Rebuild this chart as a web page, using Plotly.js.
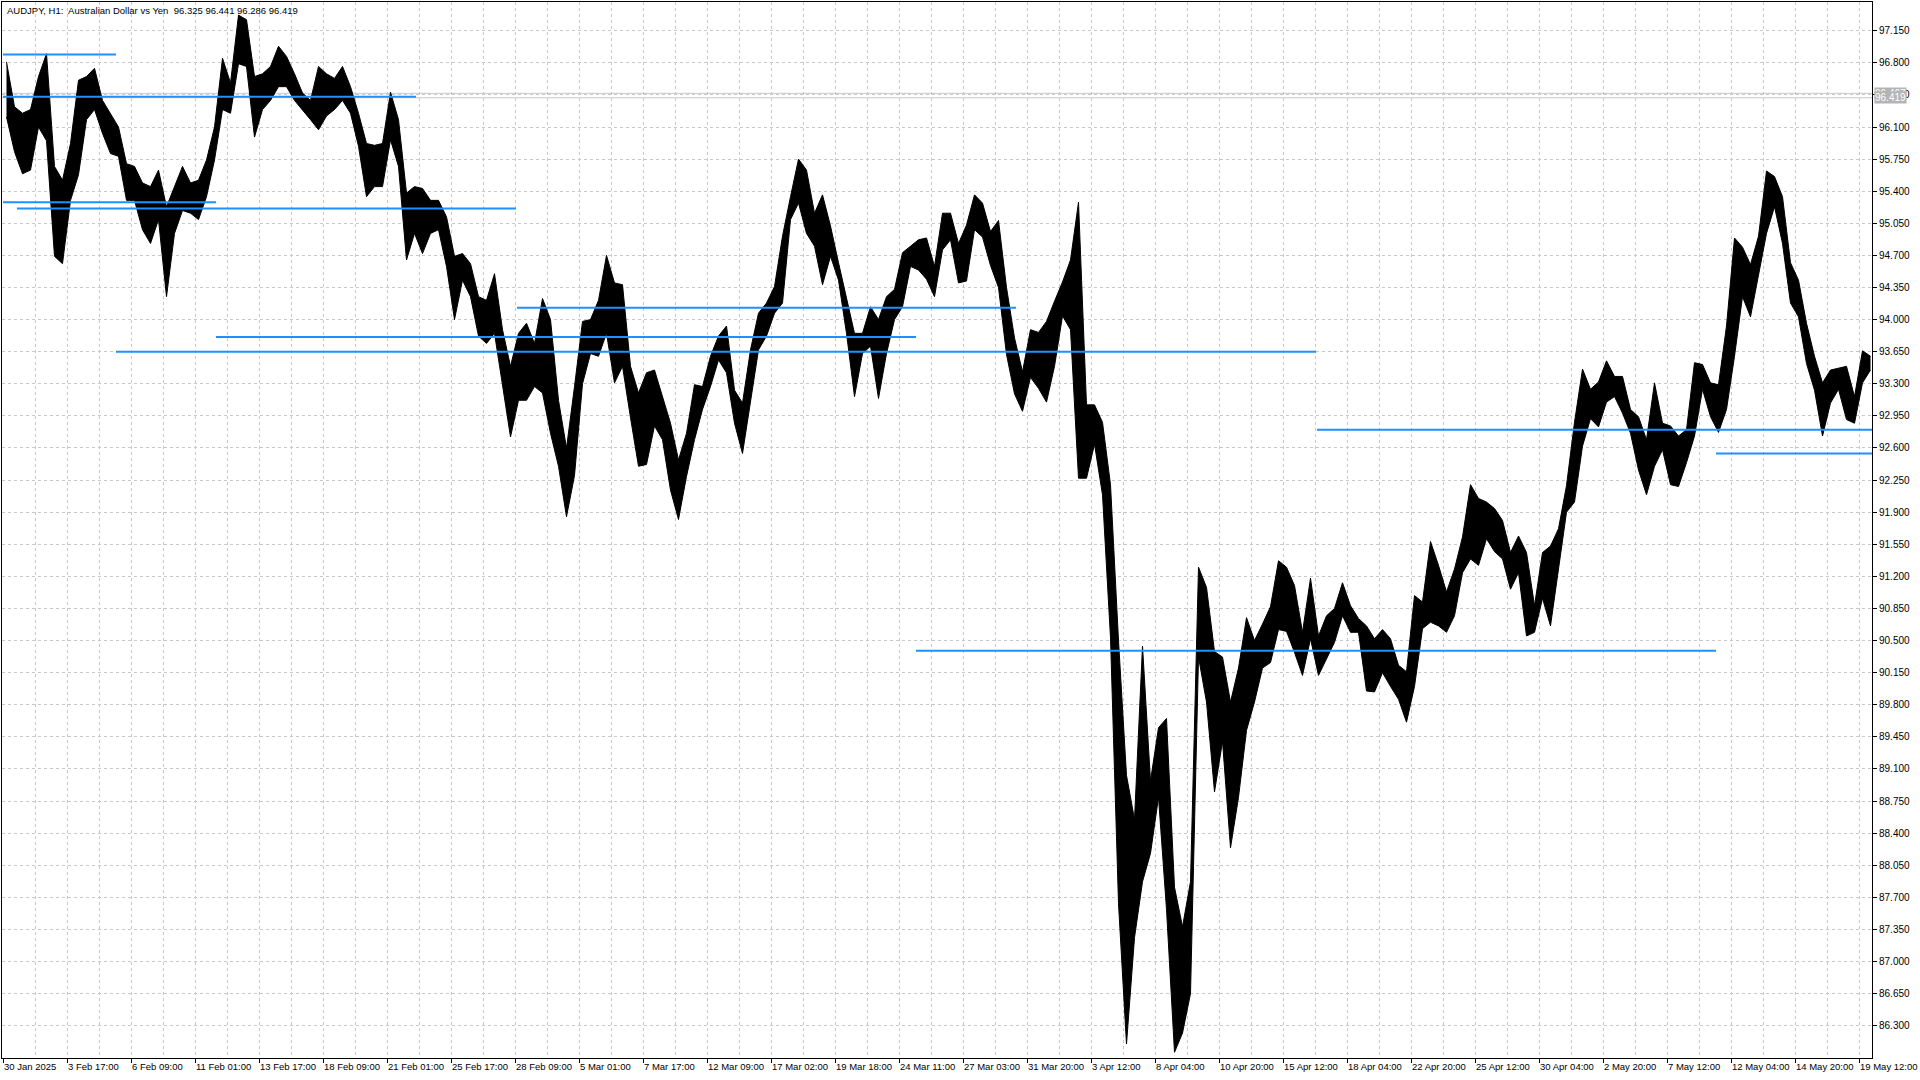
<!DOCTYPE html>
<html><head><meta charset="utf-8">
<script src="https://cdn.plot.ly/plotly-3.0.1.min.js"></script>
<style>html,body{margin:0;padding:0;background:#fff;}#chart{width:1920px;height:1080px;}</style>
</head><body><div id="chart"></div>
<script>
// ---- data ----
const symbolTitle = "AUDJPY, H1:\u00a0 Australian Dollar vs Yen\u00a0 96.325 96.441 96.286 96.419";
const barsPerSample = 8;   // each sample summarises 8 hourly bars
const sampleHigh = [
96.81,96.32,96.25,96.29,96.65,96.90,95.67,95.52,95.92,96.61,
96.65,96.74,96.39,96.25,96.10,95.70,95.67,95.49,95.45,95.63,
95.23,95.45,95.67,95.49,95.52,95.74,96.10,96.85,96.58,97.32,
97.27,96.65,96.68,96.76,96.98,96.87,96.68,96.47,96.39,96.76,
96.68,96.63,96.76,96.54,96.25,95.92,95.90,95.92,96.48,96.18,
95.38,95.45,95.43,95.30,95.30,95.12,94.69,94.72,94.61,94.25,
94.21,94.50,93.89,93.49,93.85,93.96,93.74,94.23,94.00,93.12,
92.60,93.27,93.98,94.00,94.21,94.70,94.40,94.38,93.49,93.20,
93.42,93.45,93.16,92.87,92.47,92.76,93.29,93.27,93.60,93.82,
93.93,93.23,93.09,93.67,94.07,94.18,94.36,94.91,95.34,95.75,
95.63,95.16,95.36,95.02,94.62,94.22,93.85,93.85,94.14,94.00,
94.25,94.33,94.73,94.80,94.87,94.89,94.58,95.16,95.16,94.83,
95.03,95.36,95.27,94.96,95.08,94.35,93.80,93.43,93.89,93.86,
93.98,94.20,94.41,94.65,95.28,93.07,93.07,92.88,92.20,90.50,
89.03,88.55,90.44,88.97,89.55,89.65,87.81,87.38,87.87,91.30,
91.08,90.38,90.32,89.83,90.20,90.75,90.50,90.68,90.87,91.37,
91.30,91.10,90.59,91.18,90.55,90.77,90.85,91.13,90.88,90.74,
90.66,90.52,90.62,90.52,90.23,90.16,90.99,90.92,91.58,91.32,
91.03,91.28,91.63,92.20,92.05,92.01,91.94,91.81,91.46,91.64,
91.46,90.88,91.46,91.53,91.72,92.19,92.88,93.46,93.24,93.32,
93.55,93.38,93.38,93.02,92.94,92.69,93.31,92.87,92.84,92.73,
92.80,93.53,93.51,93.31,93.29,93.93,94.89,94.79,94.60,94.91,
95.62,95.56,95.34,94.62,94.43,93.96,93.60,93.31,93.45,93.47,
93.49,93.16,93.66,93.60
];
const sampleLow = [
96.21,95.83,95.59,95.63,96.10,95.95,94.69,94.61,95.30,95.58,
96.18,96.29,96.03,95.81,95.78,95.30,95.30,94.98,94.83,95.09,
94.25,94.94,95.19,95.16,95.09,95.34,95.74,96.29,96.25,96.79,
96.76,95.99,96.29,96.39,96.54,96.54,96.39,96.29,96.18,96.07,
96.22,96.29,96.39,96.25,95.89,95.34,95.45,95.45,95.96,95.67,
94.65,94.94,94.72,94.94,94.98,94.58,94.00,94.43,94.25,93.82,
93.74,93.85,93.31,92.72,93.12,93.12,93.27,93.20,92.76,92.40,
91.85,92.30,93.30,93.63,93.60,93.85,93.31,93.49,92.93,92.40,
92.42,92.84,92.69,92.14,91.82,92.29,92.69,93.02,93.27,93.56,
93.42,92.87,92.54,93.09,93.67,93.82,94.07,94.18,95.09,95.27,
94.94,94.80,94.38,94.69,94.43,93.85,93.16,93.63,93.71,93.14,
93.63,94.00,94.14,94.58,94.54,94.44,94.25,94.76,94.87,94.40,
94.42,94.98,94.90,94.59,94.35,93.62,93.19,93.00,93.37,93.25,
93.10,93.49,94.04,93.89,92.27,92.27,92.64,92.09,90.53,87.63,
86.10,87.26,87.87,88.18,88.79,87.57,86.01,86.22,86.65,90.32,
89.83,88.85,89.40,88.24,88.79,89.52,89.83,90.20,90.26,90.62,
90.60,90.37,90.12,90.52,90.12,90.30,90.48,90.77,90.59,90.59,
89.95,89.94,90.15,90.00,89.86,89.61,90.00,90.63,90.70,90.66,
90.59,90.77,91.24,91.39,91.32,91.61,91.47,91.39,91.06,91.24,
90.55,90.59,90.96,90.66,91.28,91.90,92.01,92.62,92.92,92.83,
93.10,93.16,92.98,92.76,92.36,92.09,92.40,92.58,92.20,92.18,
92.44,92.73,93.24,92.94,92.77,93.02,93.60,94.25,94.03,94.47,
94.94,95.23,94.83,94.18,94.03,93.52,93.23,92.73,93.09,93.24,
92.91,92.87,93.31,93.45
];
const barsPerLabel = 64;
const timeLabels = ["30 Jan 2025","3 Feb 17:00","6 Feb 09:00","11 Feb 01:00","13 Feb 17:00","18 Feb 09:00",
"21 Feb 01:00","25 Feb 17:00","28 Feb 09:00","5 Mar 01:00","7 Mar 17:00","12 Mar 09:00","17 Mar 02:00",
"19 Mar 18:00","24 Mar 11:00","27 Mar 03:00","31 Mar 20:00","3 Apr 12:00","8 Apr 04:00","10 Apr 20:00",
"15 Apr 12:00","18 Apr 04:00","22 Apr 20:00","25 Apr 12:00","30 Apr 04:00","2 May 20:00","7 May 12:00",
"12 May 04:00","14 May 20:00","19 May 12:00"];
const priceTicks = ["86.300","86.650","87.000","87.350","87.700","88.050","88.400","88.750","89.100","89.450",
"89.800","90.150","90.500","90.850","91.200","91.550","91.900","92.250","92.600","92.950","93.300","93.650",
"94.000","94.350","94.700","95.050","95.400","95.750","96.100","96.450","96.800","97.150"];
// horizontal levels (price, first bar, last bar)
const levelPrice = [96.89, 96.43, 95.28, 95.21, 94.13, 93.81, 93.65, 92.80, 92.54, 90.39];
const levelFrom  = [0, 0, 0, 14, 514, 213, 113, 1314, 1713, 913];
const levelTo    = [113, 413, 213, 513, 1013, 913, 1313, 1869, 1869, 1713];
const bidPrice = 96.419, askPrice = 96.467;
const firstBar = -1, lastBar = 1869;
const priceMin = 85.948, priceMax = 97.463;

// ---- build ----
const xs = sampleHigh.map((_, i) => i * barsPerSample + (barsPerSample - 1) / 2);
const traces = [];
traces.push({x:[firstBar,lastBar], y:[askPrice,askPrice], mode:'lines', line:{color:'#c8c8c8', width:1}, hoverinfo:'skip'});
traces.push({x:[firstBar,lastBar], y:[bidPrice,bidPrice], mode:'lines', line:{color:'#c8c8c8', width:1}, hoverinfo:'skip'});
traces.push({x:xs, y:sampleLow, mode:'lines', line:{color:'#000', width:1}, hoverinfo:'skip'});
traces.push({x:xs, y:sampleHigh, mode:'lines', line:{color:'#000', width:1}, fill:'tonexty', fillcolor:'#000', hoverinfo:'skip'});
levelPrice.forEach((p, i) => {
  traces.push({x:[levelFrom[i], levelTo[i]], y:[p, p], mode:'lines', line:{color:'#1e90ff', width:2}, hoverinfo:'skip'});
});

const tickBars = timeLabels.map((_, i) => i * barsPerLabel);
const gridStyle = {color:'#c8c8c8', dash:'3px,3px'};
const font = {family:'"Liberation Sans", Arial, sans-serif', size:10, color:'#000'};
const smallFont = Object.assign({}, font, {size:9.5});

const layout = {
  width:1920, height:1080,
  margin:{l:2, r:48, t:2, b:22},
  paper_bgcolor:'#fff', plot_bgcolor:'#fff',
  showlegend:false,
  font: font,
  xaxis:{
    range:[firstBar, lastBar], tickmode:'array', tickvals:tickBars, ticktext:timeLabels,
    tickangle:0, ticks:'outside', ticklen:4, tickcolor:'#000', ticklabelposition:'outside right',
    showgrid:true, gridcolor:gridStyle.color, griddash:gridStyle.dash, gridwidth:1,
    minor:{tickmode:'linear', tick0:0, dtick:barsPerLabel/2, showgrid:true, gridcolor:gridStyle.color, griddash:gridStyle.dash, ticks:''},
    showline:true, linecolor:'#000', linewidth:1, mirror:true, zeroline:false,
    tickfont:smallFont, fixedrange:true
  },
  yaxis:{
    range:[priceMin, priceMax], side:'right', tickmode:'array',
    tickvals:priceTicks.map(Number), ticktext:priceTicks,
    ticks:'outside', ticklen:4, tickcolor:'#000',
    showgrid:true, gridcolor:gridStyle.color, griddash:gridStyle.dash, gridwidth:1,
    showline:true, linecolor:'#000', linewidth:1, mirror:true, zeroline:false,
    tickfont:font, fixedrange:true
  },
  annotations:[
    {xref:'paper', yref:'paper', x:0, y:1, xanchor:'left', yanchor:'top', xshift:3, yshift:-1,
     text:symbolTitle, showarrow:false, font:smallFont},
    {xref:'paper', yref:'y', x:1, y:askPrice, xanchor:'left', yanchor:'middle', xshift:2,
     text:askPrice.toFixed(3), showarrow:false, bgcolor:'#b4b4b4', font:Object.assign({}, font, {color:'#fff'}), borderpad:0},
    {xref:'paper', yref:'y', x:1, y:bidPrice, xanchor:'left', yanchor:'middle', xshift:2,
     text:bidPrice.toFixed(3), showarrow:false, bgcolor:'#b4b4b4', font:Object.assign({}, font, {color:'#fff'}), borderpad:0}
  ]
};
Plotly.newPlot('chart', traces, layout, {staticPlot:true, displayModeBar:false});
</script>
</body></html>
